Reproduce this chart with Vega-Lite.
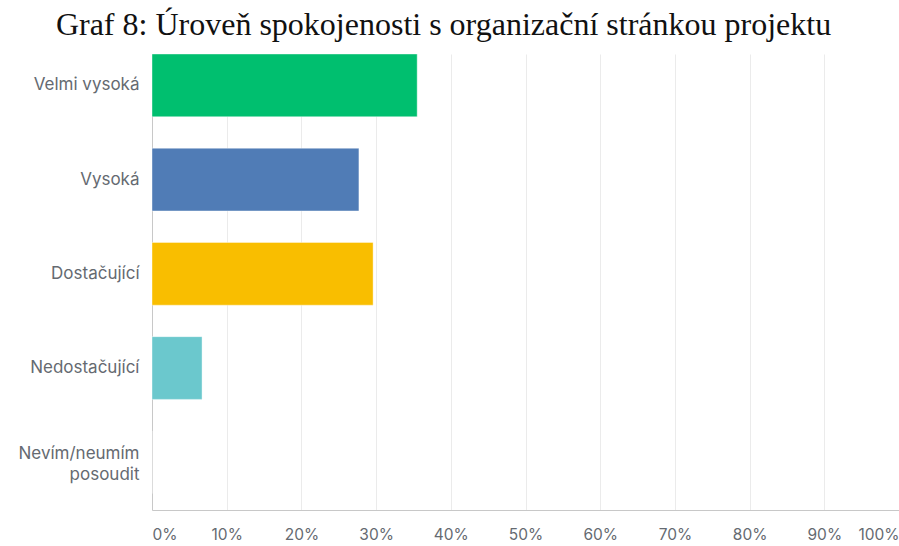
{
  "$schema": "https://vega.github.io/schema/vega-lite/v6.json",
  "autosize": {"type": "none"},
  "padding": {"left": 152, "top": 54, "right": 0, "bottom": 36},
  "width": 747,
  "height": 456,
  "background": "white",
  "title": {
    "text": "Graf 8: Úroveň spokojenosti s organizační stránkou projektu",
    "font": "Liberation Serif",
    "fontSize": 32,
    "fontWeight": "normal",
    "color": "#111111",
    "anchor": "middle",
    "frame": "group",
    "dx": -82,
    "offset": 12
  },
  "data": {
    "values": [
      {"odpoved": "Velmi vysoká", "procento": 35.5},
      {"odpoved": "Vysoká", "procento": 27.7},
      {"odpoved": "Dostačující", "procento": 29.6},
      {"odpoved": "Nedostačující", "procento": 6.7},
      {"odpoved": "Nevím/neumím posoudit", "procento": 0}
    ]
  },
  "mark": {"type": "bar", "stroke": "white", "strokeOpacity": 0.5, "strokeWidth": 0.8},
  "encoding": {
    "y": {
      "field": "odpoved",
      "type": "nominal",
      "sort": null,
      "scale": {"paddingInner": 0.334, "paddingOuter": 0.087, "align": 0},
      "axis": {
        "title": null,
        "ticks": false,
        "grid": false,
        "domain": true,
        "domainColor": "#c8c8c8",
        "domainWidth": 1,
        "labelFont": "Inter",
        "labelFontSize": 17,
        "labelColor": "#656a71",
        "labelPadding": 13,
        "labelLineHeight": 21,
        "labelLimit": 200,
        "labelOffset": {
          "condition": {"test": "datum.value == 'Nevím/neumím posoudit'", "value": -8},
          "value": 0
        },
        "labelExpr": "datum.value == 'Nevím/neumím posoudit' ? ['Nevím/neumím', 'posoudit'] : datum.value"
      }
    },
    "x": {
      "field": "procento",
      "type": "quantitative",
      "scale": {"domain": [0, 100], "nice": false},
      "axis": {
        "title": null,
        "values": [0, 10, 20, 30, 40, 50, 60, 70, 80, 90, 100],
        "labelExpr": "datum.value + '%'",
        "ticks": false,
        "grid": true,
        "gridColor": "#ebebeb",
        "gridWidth": 1,
        "domain": true,
        "domainColor": "#c8c8c8",
        "domainWidth": 1,
        "labelFlush": true,
        "labelFont": "Inter",
        "labelFontSize": 15.5,
        "labelColor": "#656a71",
        "labelPadding": 17
      }
    },
    "color": {
      "field": "odpoved",
      "type": "nominal",
      "scale": {
        "domain": ["Velmi vysoká", "Vysoká", "Dostačující", "Nedostačující", "Nevím/neumím posoudit"],
        "range": ["#00bf6f", "#507cb6", "#f9be00", "#6bc8cd", "#ff8b4f"]
      },
      "legend": null
    }
  },
  "config": {"view": {"stroke": null}}
}
